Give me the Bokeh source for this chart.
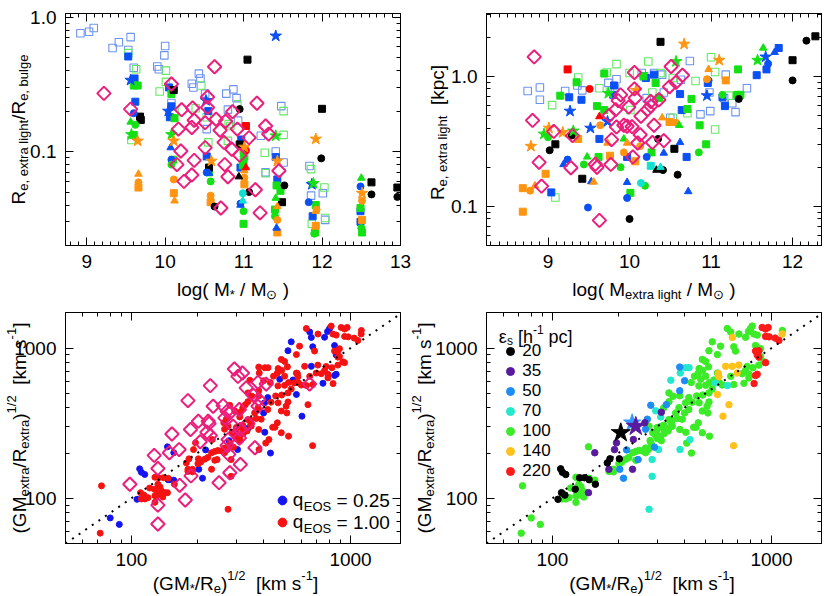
import math
from bokeh.plotting import figure
from bokeh.models import (Range1d, FixedTicker, LogAxis, LinearAxis, Label, Legend, LegendItem,
                          CustomJSTickFormatter, Slope, ColumnDataSource)
from bokeh.layouts import column, row
from bokeh.embed import file_html
from bokeh.resources import INLINE

# ---------------- Panel 1 data: log(M*/Msun) vs Re,extra/Re,bulge ----------------
p1_open_blue = [(8.92, 0.76), (9.03, 0.78), (9.09, 0.83), (9.33, 0.59), (9.41, 0.65), (9.56, 0.71),
                (9.53, 0.57), (9.60, 0.42), (9.90, 0.43), (9.92, 0.41), (9.99, 0.52), (10.00, 0.61),
                (10.34, 0.32), (10.36, 0.30), (10.43, 0.38), (10.45, 0.35), (10.51, 0.27), (10.08, 0.23),
                (10.78, 0.27), (10.87, 0.29), (10.91, 0.25), (10.93, 0.17), (10.80, 0.205), (10.53, 0.147),
                (11.22, 0.131), (11.28, 0.070), (11.41, 0.100), (11.51, 0.083), (11.48, 0.218), (11.84, 0.078),
                (11.86, 0.047), (12.01, 0.049), (12.04, 0.031)]
p1_open_green = [(9.53, 0.54), (9.63, 0.41), (10.01, 0.40), (9.93, 0.28), (10.01, 0.33), (10.12, 0.20),
                 (10.46, 0.31), (10.39, 0.21), (10.55, 0.117), (10.53, 0.18), (9.57, 0.122), (10.80, 0.12),
                 (10.81, 0.16), (10.92, 0.225), (10.83, 0.155), (11.27, 0.098), (11.51, 0.20), (11.51, 0.133),
                 (11.86, 0.074), (12.04, 0.032), (12.03, 0.054), (11.87, 0.029), (11.28, 0.069)]
p1_blue_sq = [(9.53, 0.51), (9.61, 0.35), (9.62, 0.235), (10.05, 0.30), (10.06, 0.18), (10.08, 0.217),
              (10.53, 0.092), (10.55, 0.20), (10.97, 0.123), (11.41, 0.091), (11.43, 0.062), (11.88, 0.033),
              (12.49, 0.036), (10.96, 0.076), (12.49, 0.030)]
p1_blue_circ = [(9.60, 0.193), (10.08, 0.087), (11.83, 0.042), (12.49, 0.055), (10.96, 0.041), (10.53, 0.070)]
p1_blue_tri = [(10.07, 0.107), (10.56, 0.069), (11.42, 0.027), (10.96, 0.040)]
p1_blue_star = [(9.56, 0.34), (10.04, 0.20), (10.52, 0.24), (11.41, 0.725), (11.87, 0.057)]
p1_green_sq = [(9.60, 0.31), (9.65, 0.31), (10.08, 0.268), (10.12, 0.177), (10.10, 0.087), (9.60, 0.133),
               (10.56, 0.070), (11.00, 0.101), (11.00, 0.084), (11.47, 0.051), (11.40, 0.037), (11.92, 0.040),
               (11.91, 0.025), (11.00, 0.029), (12.51, 0.025), (12.49, 0.038), (11.42, 0.056), (11.01, 0.092),
               (10.99, 0.079)]
p1_green_circ = [(9.62, 0.158), (10.08, 0.080), (10.58, 0.060), (11.00, 0.036), (11.40, 0.033), (11.90, 0.0245),
                 (12.50, 0.027)]
p1_green_tri = [(9.56, 0.166), (12.50, 0.0635), (11.41, 0.045), (11.00, 0.095)]
p1_green_star = [(9.57, 0.134), (10.08, 0.134), (11.41, 0.131), (11.89, 0.058)]
p1_orange_sq = [(9.66, 0.054), (10.11, 0.049), (10.58, 0.042), (11.01, 0.057), (11.43, 0.025), (11.92, 0.028),
                (12.51, 0.031)]
p1_orange_circ = [(9.66, 0.059), (10.11, 0.062), (10.58, 0.047), (11.01, 0.064), (11.43, 0.031), (11.93, 0.037),
                  (12.51, 0.043)]
p1_orange_tri = [(9.66, 0.068), (10.12, 0.043), (11.01, 0.072), (11.43, 0.039), (11.92, 0.036)]
p1_orange_star = [(9.65, 0.120), (10.11, 0.120), (10.59, 0.085), (11.92, 0.124), (11.43, 0.085), (12.51, 0.049),
                  (11.01, 0.108)]
p1_black_sq = [(9.68, 0.182), (9.69, 0.172), (10.11, 0.287), (10.56, 0.076), (11.05, 0.483), (12.00, 0.208),
               (11.49, 0.042), (12.63, 0.059), (12.96, 0.054), (10.95, 0.113)]
p1_black_circ = [(10.63, 0.039), (10.95, 0.207), (11.07, 0.050), (11.52, 0.056), (11.99, 0.089), (12.63, 0.048),
                 (12.96, 0.046)]
p1_black_tri = [(10.94, 0.065)]
p1_red_sq = [(11.03, 0.155)]
p1_red_circ = [(11.03, 0.102)]
p1_red_tri = [(11.03, 0.076)]
p1_cyan_circ = [(10.99, 0.049)]
p1_cyan_tri = [(10.99, 0.043)]
p1_diamond = [(9.22, 0.271), (9.56, 0.207), (10.08, 0.318), (10.21, 0.205), (10.17, 0.147), (10.20, 0.101),
              (10.15, 0.080), (10.24, 0.060), (10.34, 0.067), (10.37, 0.171), (10.35, 0.211), (10.34, 0.151),
              (10.37, 0.086), (10.54, 0.255), (10.54, 0.213), (10.51, 0.107), (10.63, 0.428), (10.65, 0.174),
              (10.70, 0.144), (10.76, 0.080), (10.75, 0.117), (10.80, 0.065), (10.71, 0.038), (10.77, 0.168),
              (10.86, 0.198), (10.92, 0.147), (10.85, 0.104), (10.95, 0.094), (11.07, 0.127), (11.17, 0.229),
              (11.28, 0.155), (11.32, 0.135), (11.45, 0.072), (11.15, 0.052), (11.21, 0.035), (10.51, 0.164)]

# ---------------- Panel 2 data: log(M_extra/Msun) vs Re,extra [kpc] ----------------
p2_diamond = [(8.83, 1.41), (8.81, 0.458), (8.89, 0.218), (8.92, 0.143), (9.07, 0.377), (9.28, 0.198),
              (9.30, 0.35), (9.58, 0.211), (9.60, 0.20), (9.63, 0.078), (9.75, 0.50), (9.77, 0.21),
              (9.78, 0.326), (9.84, 0.408), (9.83, 0.554), (9.86, 0.65), (9.89, 0.72), (9.93, 0.42),
              (9.97, 0.413), (9.99, 0.58), (10.04, 0.24), (10.06, 1.07), (10.03, 0.41), (10.07, 0.68),
              (10.10, 0.307), (10.13, 0.355), (10.14, 0.493), (10.22, 0.554), (10.51, 1.19), (10.65, 1.02),
              (10.57, 0.90), (10.49, 0.83), (10.36, 0.66), (10.26, 0.59), (10.30, 0.42), (10.28, 0.31),
              (10.42, 0.32), (10.06, 0.80), (10.26, 0.64)]
p2_open_blue = [(8.75, 0.77), (8.90, 0.82), (8.90, 0.66), (9.21, 0.77), (9.36, 0.85), (9.42, 0.78), (9.74, 0.89),
                (9.84, 0.95), (9.82, 0.81), (10.15, 1.06), (10.21, 0.68), (10.18, 1.0), (10.30, 1.06),
                (10.42, 0.75), (10.50, 0.48), (10.74, 1.31), (10.98, 0.75), (10.87, 0.51), (10.99, 0.54),
                (11.18, 1.03), (11.26, 0.62), (11.30, 0.53), (11.44, 0.81), (11.16, 0.68), (10.63, 0.94),
                (10.40, 1.03)]
p2_open_green = [(9.84, 1.24), (10.23, 1.30), (9.37, 0.98), (9.05, 0.60), (9.09, 0.117), (9.72, 1.07),
                 (9.63, 0.81), (9.76, 0.76), (10.0, 1.06), (10.01, 0.55), (10.38, 1.06), (11.0, 1.40),
                 (11.05, 1.08), (10.81, 0.92), (10.71, 0.52), (11.05, 0.39), (11.22, 0.71), (10.53, 0.97),
                 (10.28, 0.75), (10.53, 0.48)]
p2_blue_sq = [(9.26, 0.69), (9.41, 0.66), (9.63, 0.33), (9.80, 0.72), (9.81, 0.85), (10.20, 0.97), (9.97, 0.24),
              (9.04, 0.128), (10.30, 1.03), (10.62, 0.73), (10.64, 0.55), (10.70, 0.24), (10.96, 0.89),
              (11.14, 0.69), (11.17, 0.59), (11.56, 1.02), (11.68, 1.13), (11.83, 1.65)]
p2_blue_circ = [(9.24, 0.229), (9.49, 0.098), (9.97, 0.116), (10.97, 0.93), (11.70, 1.25), (10.21, 0.24)]
p2_blue_tri = [(9.19, 0.21), (9.53, 0.155), (9.97, 0.153), (10.62, 0.31), (10.42, 0.257), (10.72, 0.13),
               (11.78, 1.53)]
p2_blue_star = [(9.27, 0.54), (9.52, 0.40), (9.73, 0.45), (10.95, 0.71), (11.67, 1.41)]
p2_green_sq = [(9.15, 0.71), (9.35, 0.90), (9.69, 1.05), (9.60, 0.59), (9.69, 0.55), (9.62, 0.24), (10.01, 0.127),
               (10.17, 1.0), (10.32, 0.89), (10.36, 0.68), (10.76, 0.67), (10.71, 0.56), (10.86, 0.42),
               (10.94, 0.30), (11.33, 1.13), (11.32, 0.72), (11.36, 0.72), (10.27, 0.26)]
p2_green_circ = [(9.0, 0.34), (9.44, 0.21), (9.89, 0.20), (10.19, 0.144), (10.85, 0.26), (11.14, 0.72)]
p2_green_tri = [(9.48, 0.24), (9.93, 0.33), (10.61, 0.42), (11.64, 1.65)]
p2_green_star = [(8.95, 0.36), (9.31, 0.38), (9.74, 0.74), (10.57, 1.30), (11.57, 1.33)]
p2_orange_sq = [(8.69, 0.138), (8.69, 0.091), (8.97, 0.178), (9.37, 0.33), (9.76, 0.245), (10.07, 0.222),
                (10.49, 0.445), (11.18, 0.93)]
p2_orange_circ = [(8.78, 0.132), (9.64, 0.42), (9.93, 0.26), (10.13, 0.29), (10.57, 0.44), (10.95, 0.95)]
p2_orange_tri = [(8.84, 0.144), (9.73, 0.307), (9.97, 0.307), (9.56, 0.154), (10.40, 0.48), (10.97, 1.13)]
p2_orange_star = [(8.79, 0.29), (9.01, 0.40), (9.18, 0.37), (10.67, 1.77), (11.10, 1.33), (10.08, 0.78)]
p2_black_sq = [(9.09, 0.30), (9.42, 0.163), (10.38, 1.84), (10.55, 0.277), (12.0, 1.33), (12.28, 2.03)]
p2_black_circ = [(9.02, 0.27), (9.29, 0.35), (10.0, 0.080), (10.35, 0.33), (10.41, 0.19), (10.59, 0.175),
                 (11.34, 0.67), (12.0, 0.93), (12.17, 1.88)]
p2_black_tri = [(10.33, 0.19)]
p2_red_sq = [(9.24, 1.13)]
p2_red_circ = [(9.51, 0.80)]
p2_red_tri = [(9.63, 0.49)]
p2_cyan_sq = [(10.26, 0.205)]
p2_cyan_circ = [(10.14, 0.151)]
p2_cyan_tri = [(10.38, 0.20)]

# ---------------- Panels 3 & 4: (GM*/Re)^1/2 vs (GM_extra/R_extra)^1/2 [km/s] ----------------
# each point: (v_star, v_extra, q_EOS); grouped by softening eps_s [h^-1 pc]
eps20 = [(109, 157, 0.25), (115, 144, 0.25), (111, 149, 0.25), (110, 109, 1.0), (114, 105, 1.0),
         (106, 98.5, 0.25), (127, 115, 1.0), (133, 137, 1.0), (140, 137, 1.0), (147, 133, 0.25),
         (157, 124, 1.0), (178, 172, 1.0), (183, 183, 1.0), (202, 183, 1.0)]
eps35 = [(196, 234, 1.0), (192, 211, 1.0), (234, 246, 1.0), (181, 156, 1.0), (156, 201, 0.25),
         (146, 109, 1.0), (232, 156, 1.0), (264, 318, 1.0), (314, 374, 1.0)]
eps50 = [(281, 416, 1.0), (331, 420, 1.0), (266, 288, 1.0), (218, 210, 0.25), (211, 136, 0.25),
         (246, 181, 1.0), (203, 156, 0.25), (292, 219, 1.0), (381, 520, 1.0), (381, 747, 1.0),
         (401, 606, 1.0), (271, 336, 1.0)]
eps70 = [(347, 611, 1.0), (383, 683, 1.0), (406, 740, 1.0), (420, 740, 1.0), (296, 382, 1.0), (312, 348, 1.0),
         (285, 181, 1.0), (276, 84.5, 1.0), (285, 140, 1.0), (305, 211, 0.25), (382, 211, 1.0),
         (424, 246, 1.0), (554, 586, 1.0), (629, 563, 1.0)]
eps100 = [(73, 121, 1.0), (80, 74, 0.25), (88, 67, 0.25), (72, 58.6, 1.0), (111, 99, 1.0), (115, 99, 1.0),
          (119, 101, 1.0), (128, 94, 1.0), (128, 104, 1.0), (132, 109, 1.0), (137, 112, 1.0), (142, 109, 1.0),
          (135, 119, 1.0), (147, 136, 1.0), (128, 138, 1.0), (146, 220, 0.25), (132, 105, 1.0), (139, 102, 1.0),
          (149, 133, 0.25), (156, 132, 0.25), (181, 151, 1.0), (190, 150, 1.0), (201, 170, 1.0), (207, 174, 1.0),
          (216, 182, 1.0), (223, 187, 1.0), (232, 201, 1.0), (240, 205, 1.0), (248, 208, 1.0), (257, 207, 1.0),
          (266, 201, 1.0), (274, 211, 1.0), (279, 242, 0.25), (287, 273, 1.0), (296, 262, 1.0), (301, 250, 1.0),
          (312, 259, 1.0), (322, 287, 1.0), (340, 292, 0.25), (350, 310, 1.0), (350, 331, 1.0), (365, 370, 1.0),
          (378, 401, 1.0), (391, 336, 1.0), (406, 275, 0.25), (431, 200, 0.25), (441, 297, 1.0), (463, 318, 1.0),
          (483, 381, 1.0), (508, 410, 1.0), (518, 438, 1.0), (521, 259, 1.0), (467, 432, 1.0), (485, 487, 1.0),
          (518, 503, 1.0), (536, 534, 1.0), (546, 613, 0.25), (566, 682, 1.0), (578, 588, 1.0), (596, 567, 1.0),
          (672, 572, 1.0), (651, 648, 1.0), (735, 675, 1.0), (761, 710, 1.0), (774, 754, 1.0), (788, 633, 1.0),
          (748, 583, 0.25), (788, 670, 1.0), (822, 740, 1.0), (875, 770, 1.0), (890, 880, 1.0), (922, 810, 1.0),
          (761, 1180, 0.25), (785, 1290, 0.25), (802, 1350, 0.25), (816, 1400, 1.0), (830, 1240, 1.0),
          (860, 1220, 1.0), (845, 1040, 0.25), (890, 990, 1.0), (1120, 1310, 1.0), (710, 1240, 1.0),
          (685, 955, 1.0), (672, 1020, 0.25), (628, 1350, 1.0), (651, 1280, 0.25), (585, 1030, 1.0),
          (566, 905, 1.0), (536, 1100, 0.25), (518, 960, 0.25), (500, 815, 1.0), (515, 750, 1.0), (485, 710, 1.0),
          (463, 680, 1.0), (500, 650, 1.0), (475, 620, 0.25), (445, 650, 1.0), (430, 590, 1.0), (466, 560, 1.0),
          (521, 590, 1.0), (500, 565, 1.0), (455, 480, 1.0), (434, 436, 1.0), (405, 432, 0.25), (419, 390, 1.0),
          (401, 370, 0.25), (381, 481, 1.0), (419, 468, 0.25), (340, 440, 1.0), (355, 478, 1.0), (371, 340, 1.0),
          (352, 302, 1.0), (340, 334, 1.0), (322, 306, 1.0), (312, 300, 1.0), (301, 296, 1.0), (298, 280, 1.0),
          (314, 242, 1.0), (324, 270, 1.0), (337, 281, 1.0), (276, 302, 1.0), (282, 232, 1.0), (266, 216, 1.0),
          (240, 179, 1.0), (190, 156, 1.0), (132, 124, 1.0), (121, 117, 1.0), (322, 400, 1.0), (340, 503, 1.0),
          (467, 730, 1.0), (483, 840, 1.0), (410, 233, 1.0), (381, 287, 1.0), (452, 297, 1.0), (483, 273, 1.0),
          (512, 370, 1.0)]
eps140 = [(662, 1177, 0.25), (662, 756, 0.25), (709, 770, 1.0), (697, 682, 1.0), (617, 756, 1.0), (572, 676, 1.0),
          (575, 644, 1.0), (566, 491, 0.25), (639, 420, 1.0), (600, 352, 0.25), (671, 224, 1.0), (1118, 1240, 1.0)]
eps220 = [(906, 1371, 1.0), (939, 1339, 1.0), (965, 1371, 1.0), (939, 1195, 1.0), (975, 1188, 1.0),
          (1039, 1165, 1.0), (1080, 1124, 1.0), (845, 955, 1.0), (875, 960, 1.0), (860, 900, 0.25),
          (875, 870, 1.0), (845, 657, 0.25), (860, 669, 0.25), (832, 580, 1.0), (939, 800, 1.0)]
p3_diamond = [(98.3, 124), (127, 193), (132, 158), (132, 90), (132, 67.4), (153, 268), (149, 201), (165, 211),
              (166, 122), (176, 97.4), (181, 447), (186, 287), (187, 141), (202, 326), (206, 238), (224, 326),
              (226, 315), (221, 275), (229, 562), (229, 262), (251, 127), (262, 414), (267, 343), (273, 379),
              (273, 225), (276, 246), (278, 196), (281, 148), (283, 374), (291, 302), (295, 725), (306, 648),
              (321, 682), (311, 252), (314, 168), (334, 543), (340, 315), (360, 485), (366, 217), (378, 592),
              (381, 454), (378, 410), (412, 576), (650, 576), (236, 410), (311, 390), (313, 287)]
# reference runs (big stars in panel 4): (v_star, v_extra)
ref_star_black = [(205, 273)]
ref_star_blue = [(231, 318)]
ref_star_purple = [(240, 301)]

eps_values = [20, 35, 50, 70, 100, 140, 220]
q_labels = ["0.25", "1.00"]

# ---------------- styling helpers ----------------
FONT = "Liberation Sans"
BLUE = "#0A50F5"
GREEN = "#14E014"
ORANGE = "#FF9410"
OPEN_BLUE = "#6E93EE"
OPEN_GREEN = "#62E862"
CYAN = "#10E0D0"
PINK = "#EC1E7C"

ADV = {' ': .278, '(': .333, ')': .333, '/': .278, '[': .278, ']': .278, '*': .389, '-': .333, '=': .584,
       '.': .278, ',': .278, 'G': .778, 'M': .833, 'R': .722, 'E': .667, 'O': .778, 'S': .667,
       'a': .556, 'b': .556, 'c': .5, 'd': .556, 'e': .556, 'g': .556, 'h': .556, 'i': .222, 'k': .5,
       'l': .222, 'm': .833, 'n': .556, 'o': .556, 'p': .556, 'q': .556, 'r': .333, 's': .5, 't': .278,
       'u': .556, 'x': .5, '\u03b5': .45, '\u2299': .84}
N, SUB, SUP = 0, 1, 2


def tw(t, size):
    return sum(ADV.get(c, .556) for c in t) * size


def rich(p, segs, x, y, angle=0.0, size=19, small=13, center=None, baseline="alphabetic",
         sub_shift=5, sup_shift=8):
    sizes = [size if k == N else small for _, k in segs]
    widths = [tw(t, s) for (t, k), s in zip(segs, sizes)]
    total = sum(widths)
    if center is not None:
        pos = center - total / 2.0
    else:
        pos = x if angle == 0 else y
    for (t, k), s, w in zip(segs, sizes, widths):
        lead = len(t) - len(t.lstrip(' '))
        txt = t.strip(' ')
        shift = {N: 0, SUB: -sub_shift, SUP: sup_shift}[k]
        if txt:
            off = pos + tw(' ' * lead, s)
            if angle == 0:
                lx, ly = off, y + shift
            else:
                lx, ly = x - shift, off
            p.add_layout(Label(x=lx, y=ly, x_units="screen", y_units="screen", text=txt, angle=angle,
                               text_font=FONT, text_font_size=f"{s}px", text_align="left",
                               text_baseline=baseline, text_color="black"))
        pos += w


def style_axis(ax, show=True):
    ax.axis_line_color = "black"
    ax.axis_line_width = 1
    ax.major_tick_in = 8
    ax.major_tick_out = 0
    ax.minor_tick_in = 4
    ax.minor_tick_out = 0
    ax.major_tick_line_color = "black"
    ax.minor_tick_line_color = "black"
    ax.major_label_text_font = FONT
    ax.major_label_text_color = "black"
    if show:
        ax.major_label_text_font_size = "19px"
        ax.major_label_standoff = 9
    else:
        ax.major_label_text_font_size = "1px"
        ax.major_label_standoff = 0
        ax.formatter = CustomJSTickFormatter(code="return ''")


def make_fig(xr, yr, xlog, ylog, xtick, ytick, xfmt, yfmt, bl, br, bt, bb, fh):
    p = figure(frame_width=335, frame_height=fh, x_range=Range1d(*xr), y_range=Range1d(*yr),
               x_axis_type="log" if xlog else "linear", y_axis_type="log" if ylog else "linear",
               output_backend="svg", toolbar_location=None,
               min_border_left=bl, min_border_right=br, min_border_top=bt, min_border_bottom=bb)
    p.grid.visible = False
    p.outline_line_color = "black"
    p.background_fill_color = "white"
    p.border_fill_color = "white"
    p.xaxis.ticker = xtick
    p.yaxis.ticker = ytick
    p.xaxis.formatter = CustomJSTickFormatter(code=xfmt)
    p.yaxis.formatter = CustomJSTickFormatter(code=yfmt)
    for ax in p.xaxis + p.yaxis:
        style_axis(ax, True)
    top = (LogAxis if xlog else LinearAxis)(ticker=xtick)
    right = (LogAxis if ylog else LinearAxis)(ticker=ytick)
    style_axis(top, False)
    style_axis(right, False)
    p.add_layout(top, "above")
    p.add_layout(right, "right")
    return p


def pts(p, data, marker, color, size, fill=True, lw=1.0, angle=0.0):
    src = ColumnDataSource(dict(x=[d[0] for d in data], y=[d[1] for d in data]))
    return p.scatter("x", "y", source=src, marker=marker, size=size, angle=angle,
                     fill_color=color if fill else None, line_color=color, line_width=lw)


def minor_lin(a, b):
    out = []
    for i in range(int(round(a * 10)), int(round(b * 10)) + 1):
        if i % 10:
            out.append(i / 10.0)
    return out


def minor_log(lo_exp, hi_exp, lo, hi):
    out = []
    for e in range(lo_exp, hi_exp + 1):
        for m in range(2, 10):
            v = m * 10 ** e
            if lo <= v <= hi:
                out.append(v)
    return out


def draw_top_panel(p, groups):
    for data, marker, color, size, fill, lw, ang in groups:
        if data:
            pts(p, data, marker, color, size, fill, lw, ang)


def top_groups(open_blue, open_green, sq, circ, tri, star, diamond):
    g = [(open_blue, "square", OPEN_BLUE, 7.5, False, 1.1, 0), (open_green, "square", OPEN_GREEN, 7.5, False, 1.1, 0)]
    for data, color in sq:
        g.append((data, "square", color, 7, True, 1, 0))
    for data, color in circ:
        g.append((data, "circle", color, 7, True, 1, 0))
    for data, color in tri:
        g.append((data, "triangle", color, 7.5, True, 1, 0))
    for data, color in star:
        g.append((data, "star", color, 12, True, 1, 0))
    g.append((diamond, "square", PINK, 9.5, False, 2, math.pi / 4))
    return g


# page layout (Bokeh page has no body margin): left column x 0..415, right column 415..830
# top row y 0..296, bottom row y 296..596

# ---------------- Panel 1 ----------------
p1 = make_fig((8.73, 13.0), (0.02, 1.065), False, True,
              FixedTicker(ticks=[9, 10, 11, 12, 13], minor_ticks=minor_lin(8.8, 13.0)),
              FixedTicker(ticks=[0.1, 1.0], minor_ticks=minor_log(-2, -1, 0.02, 1.0)),
              "return tick.toFixed(0)", "return tick.toFixed(1)", 65, 15, 13, 51, 232)
draw_top_panel(p1, top_groups(
    p1_open_blue, p1_open_green,
    [(p1_blue_sq, BLUE), (p1_green_sq, GREEN), (p1_orange_sq, ORANGE), (p1_black_sq, "black"), (p1_red_sq, "red")],
    [(p1_blue_circ, BLUE), (p1_green_circ, GREEN), (p1_orange_circ, ORANGE), (p1_black_circ, "black"),
     (p1_red_circ, "red"), (p1_cyan_circ, CYAN)],
    [(p1_blue_tri, BLUE), (p1_green_tri, GREEN), (p1_orange_tri, ORANGE), (p1_black_tri, "black"),
     (p1_red_tri, "red"), (p1_cyan_tri, CYAN)],
    [(p1_blue_star, BLUE), (p1_green_star, GREEN), (p1_orange_star, ORANGE)],
    p1_diamond))

# ---------------- Panel 2 ----------------
p2 = make_fig((8.245, 12.355), (0.05, 3.04), False, True,
              FixedTicker(ticks=[9, 10, 11, 12], minor_ticks=minor_lin(8.3, 12.3)),
              FixedTicker(ticks=[0.1, 1.0], minor_ticks=minor_log(-2, 0, 0.05, 3.0)),
              "return tick.toFixed(0)", "return tick.toFixed(1)", 71, 9, 13, 51, 232)
draw_top_panel(p2, top_groups(
    p2_open_blue, p2_open_green,
    [(p2_blue_sq, BLUE), (p2_green_sq, GREEN), (p2_orange_sq, ORANGE), (p2_black_sq, "black"), (p2_red_sq, "red"),
     (p2_cyan_sq, CYAN)],
    [(p2_blue_circ, BLUE), (p2_green_circ, GREEN), (p2_orange_circ, ORANGE), (p2_black_circ, "black"),
     (p2_red_circ, "red"), (p2_cyan_circ, CYAN)],
    [(p2_blue_tri, BLUE), (p2_green_tri, GREEN), (p2_orange_tri, ORANGE), (p2_black_tri, "black"),
     (p2_red_tri, "red"), (p2_cyan_tri, CYAN)],
    [(p2_blue_star, BLUE), (p2_green_star, GREEN), (p2_orange_star, ORANGE)],
    p2_diamond))

# ---------------- Panels 3 & 4 ----------------
V_RANGE_X = (50, 1690)
V_RANGE_Y = (50, 1725)
v_ticks = [100, 1000]


def v_fig(bl, br):
    return make_fig(V_RANGE_X, V_RANGE_Y, True, True,
                    FixedTicker(ticks=v_ticks, minor_ticks=minor_log(1, 3, 50, 1700)),
                    FixedTicker(ticks=v_ticks, minor_ticks=minor_log(1, 3, 50, 1700)),
                    "return tick.toFixed(0)", "return tick.toFixed(0)", bl, br, 16, 53, 231)


all_groups = [eps20, eps35, eps50, eps70, eps100, eps140, eps220]
xlab_v = [("(GM", N), ("*", SUB), ("/R", N), ("e", SUB), (")", N), ("1/2", SUP), ("  [km s", N), ("-1", SUP),
          ("]", N)]
ylab_v = [("(GM", N), ("extra", SUB), ("/R", N), ("extra", SUB), (")", N), ("1/2", SUP), ("  [km s", N),
          ("-1", SUP), ("]", N)]

p3 = v_fig(65, 15)
p3.add_layout(Slope(gradient=1, y_intercept=0, line_color="black", line_width=2, line_dash="2 6"))
q_blue = [(a, b) for g in all_groups for (a, b, q) in g if q == 0.25]
q_red = [(a, b) for g in all_groups for (a, b, q) in g if q == 1.0]
r_blue = pts(p3, q_blue, "circle", "#1414F0", 6)
r_red = pts(p3, q_red, "circle", "#F51212", 6)
pts(p3, p3_diamond, "square", PINK, 9.5, False, 2, math.pi / 4)
leg3 = Legend(items=[LegendItem(label="q", renderers=[r_blue]), LegendItem(label="q", renderers=[r_red])],
              location=(205.7, 10), glyph_width=22, glyph_height=22, label_standoff=0, padding=0, spacing=0,
              margin=0, border_line_color=None, background_fill_alpha=0, label_text_font=FONT,
              label_text_font_size="19px", label_text_color="black")
p3.add_layout(leg3)
for cy, ql in zip([43, 21], q_labels):
    rich(p3, [("EOS", SUB), (" = " + ql, N)], 227.7 + tw("q", 19), cy, baseline="middle", sub_shift=6)

p4 = v_fig(71, 9)
p4.add_layout(Slope(gradient=1, y_intercept=0, line_color="black", line_width=2, line_dash="2 6"))
eps_colors = ["#000000", "#5A1A9E", "#1E8CF5", "#22E8CC", "#3CEB28", "#FFC21A", "#FF1A1A"]
draw_order = [4, 3, 2, 5, 1, 0, 6]
renderers = {}
for i in draw_order:
    renderers[i] = pts(p4, [(a, b) for (a, b, q) in all_groups[i]], "circle", eps_colors[i], 6.5)
pts(p4, ref_star_blue, "star", "#3399FF", 18)
pts(p4, ref_star_purple, "star", "#5A1A9E", 20)
pts(p4, ref_star_black, "star", "#000000", 20)
leg4 = Legend(items=[LegendItem(label=str(e), renderers=[renderers[i]]) for i, e in enumerate(eps_values)],
              location=(14.3, 62), glyph_width=20, glyph_height=20, label_standoff=2, padding=0, spacing=0,
              margin=0, border_line_color=None, background_fill_alpha=0, label_text_font=FONT,
              label_text_font_size="17px", label_text_color="black")
p4.add_layout(leg4)
rich(p4, [("\u03b5", N), ("s", SUB), (" [h", N), ("-1", SUP), (" pc]", N)], 12.3, 207, size=18, small=12,
     sub_shift=4, sup_shift=7)

# ---------------- transparent overlay carrying the axis titles ----------------
OV_W, OV_H = 830, 596
ov = figure(width=OV_W, height=OV_H, x_range=Range1d(0, OV_W), y_range=Range1d(0, OV_H),
            output_backend="svg", toolbar_location=None, min_border=0,
            x_axis_location=None, y_axis_location=None, margin=(-OV_H, 0, 0, 0))
ov.grid.visible = False
ov.outline_line_color = None
ov.background_fill_alpha = 0
ov.border_fill_alpha = 0


def page(px, py):
    # page pixel -> overlay screen units (origin bottom-left of overlay)
    return px, OV_H - py


R90 = math.pi / 2
x, y = page(18, 129)
rich(ov, [("R", N), ("e, extra light", SUB), ("/R", N), ("e, bulge", SUB)], x, 0, angle=R90, center=y)
x, y = page(232.5, 289)
rich(ov, [("log( M", N), ("*", SUB), (" / M", N), ("\u2299", SUB), (" )", N)], 0, y, center=x)
x, y = page(437, 132)
rich(ov, [("R", N), ("e, extra light", SUB), ("  [kpc]", N)], x, 0, angle=R90, center=y)
x, y = page(653.5, 289)
rich(ov, [("log( M", N), ("extra light", SUB), (" / M", N), ("\u2299", SUB), (" )", N)], 0, y, center=x)
x, y = page(235, 583)
rich(ov, xlab_v, 0, y, center=x)
x, y = page(651.5, 583)
rich(ov, xlab_v, 0, y, center=x)
x, y = page(19, 427.5)
rich(ov, ylab_v, x, 0, angle=R90, center=y)
x, y = page(424, 427.5)
rich(ov, ylab_v, x, 0, angle=R90, center=y)

layout = column(row(p1, p2), row(p3, p4), ov)
open("out.html", "w").write(file_html(layout, INLINE))
